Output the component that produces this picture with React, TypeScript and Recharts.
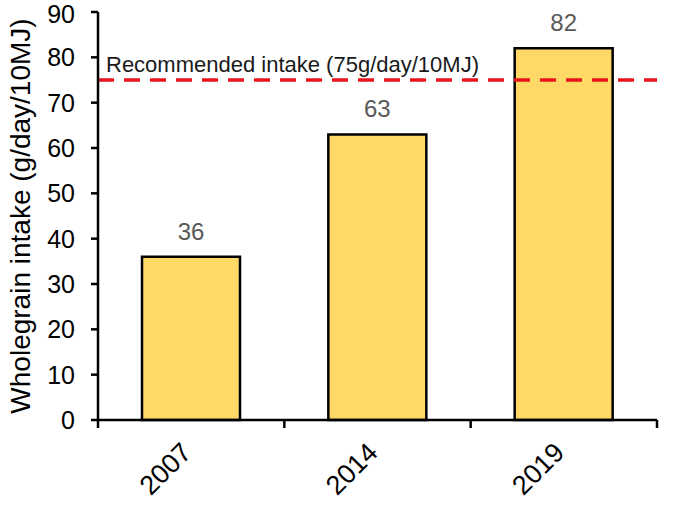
import React from 'react'
import {
  BarChart,
  Bar,
  XAxis,
  YAxis,
  ReferenceLine,
  LabelList,
} from 'recharts'

// survey years and mean wholegrain intake (g/day/10MJ)
const years = ['2007', '2014', '2019']
const intake = [36, 63, 82]
const yTicks = [0, 10, 20, 30, 40, 50, 60, 70, 80, 90]
const recommended = 75

const data = years.map((year, i) => ({ year, intake: intake[i] }))

const FONT = '"Liberation Sans", Arial, sans-serif'
const W = 674
const H = 507
const MARGIN = { top: 12, right: 17, left: 0, bottom: 0 }
const Y_WIDTH = 98

// year label rotated, plus the tick marks on the band edges
function YearTick(props: any) {
  const { x, y, payload, index } = props
  const half =
    payload && payload.offset ? payload.offset : (W - Y_WIDTH - MARGIN.right) / years.length / 2
  const bx = x + 2
  const by = y + 34
  return (
    <g>
      <line x1={x + half} y1={y} x2={x + half} y2={y + 8} stroke="#000" strokeWidth={2.5} />
      {index === 0 && (
        <line x1={x - half} y1={y} x2={x - half} y2={y + 8} stroke="#000" strokeWidth={2.5} />
      )}
      <text
        x={bx}
        y={by}
        transform={`rotate(-45, ${bx}, ${by})`}
        textAnchor="end"
        fontSize={27}
        fontFamily={FONT}
        fill="#000"
      >
        {payload.value}
      </text>
    </g>
  )
}

export default function App() {
  return (
    <div style={{ position: 'absolute', left: 0, top: 0, width: W, height: H, background: '#fff' }}>
      <BarChart
        width={W}
        height={H}
        data={data}
        margin={MARGIN}
        style={{ fontFamily: FONT }}
      >
        <XAxis
          dataKey="year"
          height={87}
          tickLine={false}
          axisLine={{ stroke: '#000', strokeWidth: 2.5 }}
          tickSize={0}
          tickMargin={0}
          interval={0}
          tick={<YearTick />}
        />
        <YAxis
          domain={[0, 90]}
          ticks={yTicks}
          width={Y_WIDTH}
          tickSize={7}
          tickMargin={16}
          tick={{ fontSize: 25, fill: '#000', fontFamily: FONT }}
          tickLine={{ stroke: '#000', strokeWidth: 2.5 }}
          axisLine={{ stroke: '#000', strokeWidth: 2.5 }}
          label={{
            value: 'Wholegrain intake (g/day/10MJ)',
            angle: -90,
            position: 'insideLeft',
            offset: 20,
            textAnchor: 'middle',
            fontSize: 28,
            fill: '#000',
            fontFamily: FONT,
          }}
        />
        <Bar
          dataKey="intake"
          barSize={98}
          fill="#FFD966"
          stroke="#000"
          strokeWidth={2.5}
          isAnimationActive={false}
        >
          <LabelList
            dataKey="intake"
            position="top"
            offset={17}
            fontSize={24}
            fill="#595959"
            fontFamily={FONT}
          />
        </Bar>
        <ReferenceLine
          y={recommended}
          stroke="#E8141B"
          strokeWidth={3.5}
          strokeDasharray="16 10"
          label={{
            value: 'Recommended intake (75g/day/10MJ)',
            position: 'insideBottomLeft',
            offset: 8,
            fontSize: 22,
            fill: '#1a1a1a',
            fontFamily: FONT,
          }}
        />
      </BarChart>
    </div>
  )
}
